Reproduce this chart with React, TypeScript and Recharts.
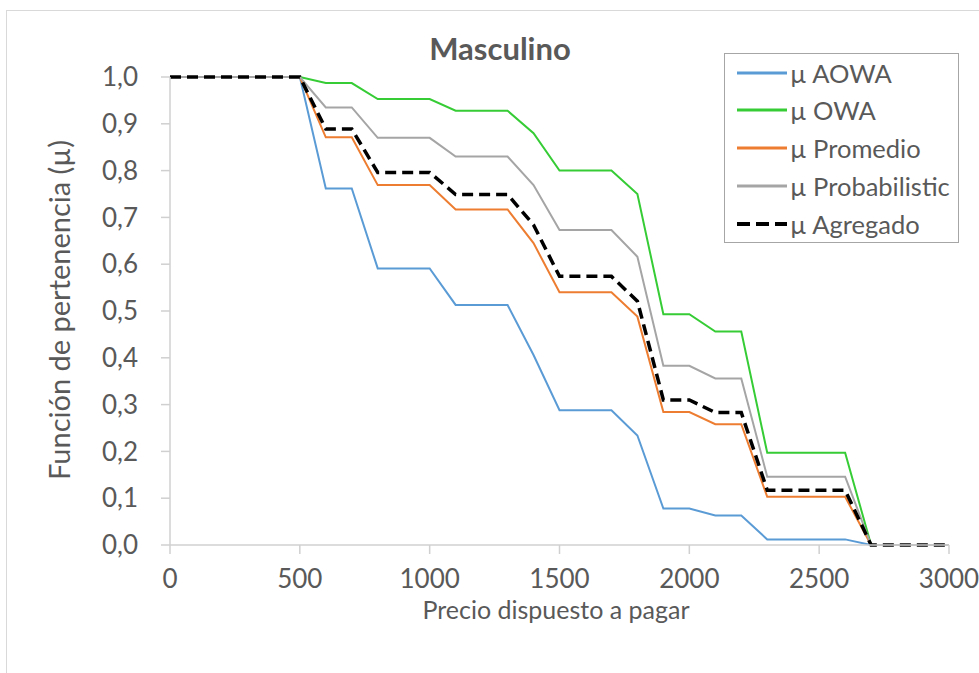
import { Legend, Line, LineChart, XAxis, YAxis } from "recharts";

const FONT = "Lato, 'Open Sans', sans-serif";
const TEXT = "#595959";
const AXIS = "#d0d0d0";

const chartTitle = "Masculino";
const xTitle = "Precio dispuesto a pagar";
const yTitle = "Función de pertenencia (µ)";

const prices = [
  0, 100, 200, 300, 400, 500, 600, 700, 800, 900, 1000, 1100, 1200, 1300, 1400, 1500,
  1600, 1700, 1800, 1900, 2000, 2100, 2200, 2300, 2400, 2500, 2600, 2700, 2800, 2900, 3000,
];
const muAOWA = [
  1, 1, 1, 1, 1, 1, 0.762, 0.762, 0.591, 0.591, 0.591, 0.513, 0.513, 0.513, 0.406, 0.288,
  0.288, 0.288, 0.234, 0.078, 0.078, 0.063, 0.063, 0.012, 0.012, 0.012, 0.012, 0, 0, 0, 0,
];
const muOWA = [
  1, 1, 1, 1, 1, 1, 0.987, 0.987, 0.953, 0.953, 0.953, 0.928, 0.928, 0.928, 0.88, 0.8,
  0.8, 0.8, 0.75, 0.493, 0.493, 0.456, 0.456, 0.197, 0.197, 0.197, 0.197, 0, 0, 0, 0,
];
const muPromedio = [
  1, 1, 1, 1, 1, 1, 0.871, 0.871, 0.769, 0.769, 0.769, 0.717, 0.717, 0.717, 0.645, 0.54,
  0.54, 0.54, 0.488, 0.284, 0.284, 0.258, 0.258, 0.103, 0.103, 0.103, 0.103, 0, 0, 0, 0,
];
const muProbabilistic = [
  1, 1, 1, 1, 1, 1, 0.935, 0.935, 0.87, 0.87, 0.87, 0.83, 0.83, 0.83, 0.769, 0.673,
  0.673, 0.673, 0.616, 0.383, 0.383, 0.356, 0.356, 0.146, 0.146, 0.146, 0.146, 0, 0, 0, 0,
];
const muAgregado = [
  1, 1, 1, 1, 1, 1, 0.889, 0.889, 0.796, 0.796, 0.796, 0.749, 0.749, 0.749, 0.684, 0.574,
  0.574, 0.574, 0.521, 0.31, 0.31, 0.283, 0.283, 0.117, 0.117, 0.117, 0.117, 0, 0, 0, 0,
];

const xTicks = [0, 500, 1000, 1500, 2000, 2500, 3000];
const yTicks = [0, 0.1, 0.2, 0.3, 0.4, 0.5, 0.6, 0.7, 0.8, 0.9, 1];

const series = [
  { key: "aowa", name: "µ AOWA", color: "#5b9bd5", width: 2, dash: "" },
  { key: "owa", name: "µ OWA", color: "#36cc36", width: 2, dash: "" },
  { key: "promedio", name: "µ Promedio", color: "#ed7d31", width: 2, dash: "" },
  { key: "probabilistic", name: "µ Probabilistic", color: "#a5a5a5", width: 2, dash: "" },
  { key: "agregado", name: "µ Agregado", color: "#000000", width: 3.5, dash: "11 6" },
];

const data = prices.map((price, i) => ({
  price,
  aowa: muAOWA[i],
  owa: muOWA[i],
  promedio: muPromedio[i],
  probabilistic: muProbabilistic[i],
  agregado: muAgregado[i],
}));

const formatY = (v: number) => v.toFixed(1).replace(".", ",");

const renderLegend = () => (
  <div
    style={{
      width: 235,
      height: 190,
      boxSizing: "border-box",
      border: "1.5px solid #a6a6a6",
      background: "#fff",
      position: "relative",
    }}
  >
    {series.map((s, i) => (
      <div
        key={s.key}
        style={{
          position: "absolute",
          left: 12,
          top: 2.5 + i * 37.8,
          height: 32,
          display: "flex",
          alignItems: "center",
          whiteSpace: "nowrap",
        }}
      >
        <svg width={50} height={10}>
          <line
            x1={0}
            x2={50}
            y1={5}
            y2={5}
            stroke={s.color}
            strokeWidth={s.dash ? 4 : 3}
            strokeDasharray={s.dash ? "13 6" : undefined}
          />
        </svg>
        <span
          style={{ marginLeft: 3, fontSize: 25.5, fontFamily: FONT, color: TEXT, lineHeight: "32px" }}
        >
          {s.name}
        </span>
      </div>
    ))}
  </div>
);

export default function App() {
  return (
    <div
      style={{
        position: "absolute",
        left: 0,
        top: 0,
        width: 979,
        height: 673,
        overflow: "hidden",
        background: "#fff",
      }}
    >
      <div
        style={{
          position: "absolute",
          left: 6,
          top: 10,
          width: 1000,
          height: 700,
          border: "1px solid #d9d9d9",
        }}
      />
      <div
        style={{
          position: "absolute",
          left: 350,
          width: 300,
          top: 33,
          textAlign: "center",
          fontFamily: FONT,
          fontWeight: 700,
          fontSize: 31,
          lineHeight: 1,
          color: TEXT,
        }}
      >
        {chartTitle}
      </div>
      <div style={{ position: "absolute", left: 0, top: 0 }}>
        <LineChart
          width={979}
          height={673}
          data={data}
          margin={{ top: 77, right: 30, bottom: 0, left: 0 }}
        >
          <XAxis
            dataKey="price"
            type="number"
            domain={[0, 3000]}
            ticks={xTicks}
            interval={0}
            height={128}
            tickSize={9}
            tickMargin={16}
            axisLine={{ stroke: AXIS, strokeWidth: 1.5 }}
            tickLine={{ stroke: AXIS, strokeWidth: 1.5 }}
            tick={{ fill: TEXT, fontSize: 26, fontFamily: FONT }}
            label={{
              value: xTitle,
              content: () => (
                <text
                  x={556}
                  y={619}
                  textAnchor="middle"
                  fill={TEXT}
                  fontSize={25}
                  fontFamily={FONT}
                >
                  {xTitle}
                </text>
              ),
            }}
          />
          <YAxis
            type="number"
            domain={[0, 1]}
            ticks={yTicks}
            interval={0}
            width={170}
            tickSize={9}
            tickMargin={23}
            tickFormatter={formatY}
            axisLine={{ stroke: AXIS, strokeWidth: 1.5 }}
            tickLine={{ stroke: AXIS, strokeWidth: 1.5 }}
            tick={{ fill: TEXT, fontSize: 26, fontFamily: FONT }}
            label={{
              value: yTitle,
              content: () => (
                <text
                  transform="translate(70,310) rotate(-90)"
                  textAnchor="middle"
                  fill={TEXT}
                  fontSize={29}
                  fontFamily={FONT}
                >
                  {yTitle}
                </text>
              ),
            }}
          />
          <Legend
            layout="vertical"
            align="center"
            verticalAlign="middle"
            content={renderLegend}
            wrapperStyle={{ position: "absolute", left: 724, top: 53, width: 235, height: 190 }}
          />
          {series.map((s) => (
            <Line
              key={s.key}
              type="linear"
              dataKey={s.key}
              name={s.name}
              stroke={s.color}
              strokeWidth={s.width}
              strokeDasharray={s.dash || undefined}
              dot={false}
              activeDot={false}
              isAnimationActive={false}
            />
          ))}
        </LineChart>
      </div>
    </div>
  );
}
